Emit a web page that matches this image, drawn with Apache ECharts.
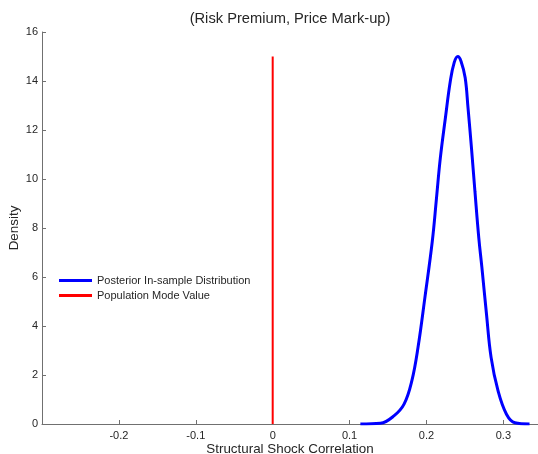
<!DOCTYPE html>
<html>
<head>
<meta charset="utf-8">
<script src="https://cdn.jsdelivr.net/npm/echarts@6/dist/echarts.min.js"></script>
<style>
  html, body { margin: 0; padding: 0; background: #fff; }
  #chart { width: 538px; height: 454px; }
</style>
</head>
<body>
<div id="chart"></div>
<script>
// posterior density
var postX = [0.114, 0.140, 0.158, 0.171, 0.181, 0.189, 0.198, 0.2075, 0.213, 0.218, 0.2246, 0.231, 0.236, 0.2407, 0.245, 0.2503, 0.254, 0.2585, 0.263, 0.268, 0.272, 0.278, 0.284, 0.293, 0.304, 0.315, 0.334];
var postY = [0, 0.03, 0.34, 0.82, 1.77, 3.13, 5.18, 7.45, 9.22, 10.86, 12.5, 14.0, 14.75, 15.0, 14.8, 14.13, 12.9, 11.26, 9.49, 7.6, 6.4, 4.49, 2.72, 1.36, 0.40, 0.05, 0];
// population mode value line
var modeX = [0, 0];
var modeY = [0, 15];

var names = ["Posterior In-sample Distribution", "Population Mode Value"];

function zip(xs, ys) {
    var out = [];
    for (var i = 0; i < xs.length; i++) out.push([xs[i], ys[i]]);
    return out;
}

var font = "Liberation Sans, Arial, sans-serif";
var axisColor = "#707070";
var textColor = "#262626";

var myChart = echarts.init(document.getElementById("chart"));
myChart.setOption({
    animation: false,
    title: {
        text: "(Risk Premium, Price Mark-up)",
        left: 290,
        textAlign: "center",
        top: 11,
        padding: 0,
        textStyle: { fontFamily: font, fontSize: 14.7, fontWeight: "normal", color: textColor }
    },
    legend: {
        orient: "vertical",
        left: 59,
        top: 275,
        padding: 0,
        icon: "rect",
        itemWidth: 33,
        itemHeight: 3,
        itemGap: 4,
        textStyle: { fontFamily: font, fontSize: 11, color: textColor },
        data: names
    },
    grid: { left: 42, right: 0, top: 32, bottom: 30, outerBoundsMode: "none", containLabel: false },
    xAxis: {
        type: "value",
        min: -0.3,
        max: 0.345,
        interval: 0.1,
        name: "Structural Shock Correlation",
        nameLocation: "middle",
        nameGap: 19,
        nameMoveOverlap: false,
        nameTextStyle: { fontFamily: font, fontSize: 13.4, color: textColor },
        axisLine: { onZero: false, lineStyle: { color: axisColor, width: 1 } },
        axisTick: { inside: true, length: 4, lineStyle: { color: axisColor } },
        axisLabel: {
            showMinLabel: false, showMaxLabel: false,
            fontFamily: font, fontSize: 11, color: textColor, margin: 6,
            formatter: function (v) { return Math.abs(v) < 1e-9 ? "0" : String(Math.round(v * 10) / 10); }
        },
        splitLine: { show: false }
    },
    yAxis: {
        type: "value",
        min: 0,
        max: 16,
        interval: 2,
        name: "Density",
        nameLocation: "middle",
        nameGap: 21,
        nameMoveOverlap: false,
        nameTextStyle: { fontFamily: font, fontSize: 13.4, color: textColor },
        axisLine: { show: true, onZero: false, lineStyle: { color: axisColor, width: 1 } },
        axisTick: { show: true, inside: true, length: 4, lineStyle: { color: axisColor } },
        axisLabel: { fontFamily: font, fontSize: 11, color: textColor, margin: 4 },
        splitLine: { show: false }
    },
    series: [{
        name: names[0],
        type: "line",
        data: zip(postX, postY),
        smooth: 0.4,
        symbol: "none",
        color: "#0000ff",
        lineStyle: { color: "#0000ff", width: 3 }
    }, {
        name: names[1],
        type: "line",
        data: zip(modeX, modeY),
        symbol: "none",
        color: "#ff0000",
        lineStyle: { color: "#ff0000", width: 2 }
    }]
});
</script>
</body>
</html>
